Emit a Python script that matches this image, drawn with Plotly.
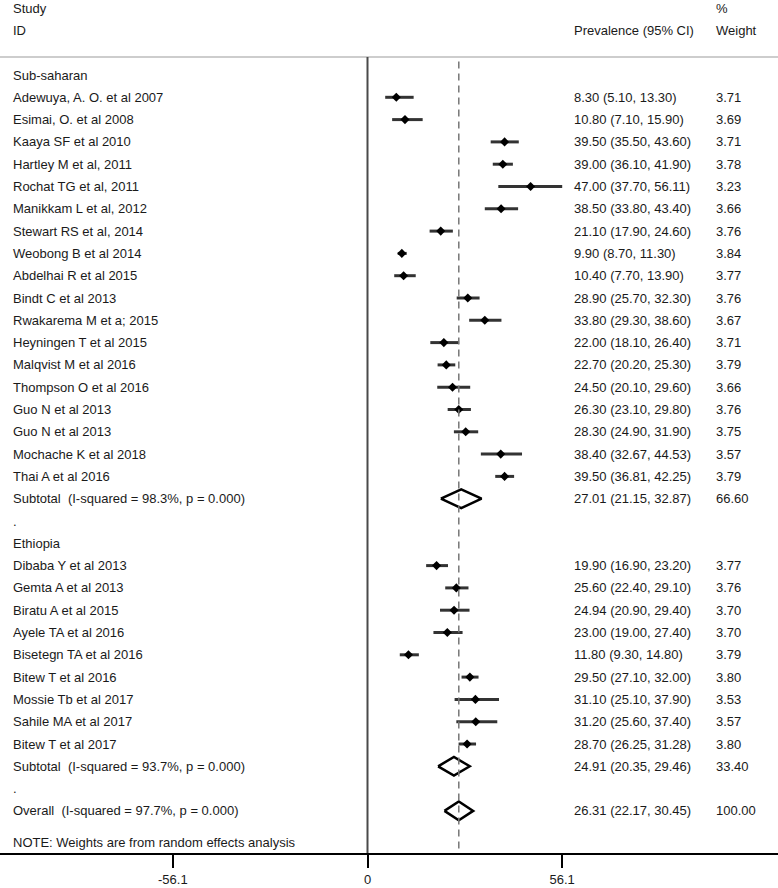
import plotly.graph_objects as go

# ---------------- data ----------------
group_names = ["Sub-saharan", "Ethiopia"]

ss_studies = ["Adewuya, A. O. et al 2007", "Esimai, O. et al 2008", "Kaaya SF et al 2010",
              "Hartley M et al, 2011", "Rochat TG et al, 2011", "Manikkam L et al, 2012",
              "Stewart RS et al, 2014", "Weobong B et al 2014", "Abdelhai R et al 2015",
              "Bindt C et al 2013", "Rwakarema M et a; 2015", "Heyningen T et al 2015",
              "Malqvist M et al 2016", "Thompson O et al 2016", "Guo N et al 2013",
              "Guo N et al 2013", "Mochache K et al 2018", "Thai A et al 2016"]
ss_est = [8.30, 10.80, 39.50, 39.00, 47.00, 38.50, 21.10, 9.90, 10.40,
          28.90, 33.80, 22.00, 22.70, 24.50, 26.30, 28.30, 38.40, 39.50]
ss_lo = [5.10, 7.10, 35.50, 36.10, 37.70, 33.80, 17.90, 8.70, 7.70,
         25.70, 29.30, 18.10, 20.20, 20.10, 23.10, 24.90, 32.67, 36.81]
ss_hi = [13.30, 15.90, 43.60, 41.90, 56.11, 43.40, 24.60, 11.30, 13.90,
         32.30, 38.60, 26.40, 25.30, 29.60, 29.80, 31.90, 44.53, 42.25]
ss_w = [3.71, 3.69, 3.71, 3.78, 3.23, 3.66, 3.76, 3.84, 3.77,
        3.76, 3.67, 3.71, 3.79, 3.66, 3.76, 3.75, 3.57, 3.79]

eth_studies = ["Dibaba Y et al 2013", "Gemta A et al 2013", "Biratu A et al 2015",
               "Ayele TA et al 2016", "Bisetegn TA et al 2016", "Bitew T et al 2016",
               "Mossie Tb et al 2017", "Sahile MA et al 2017", "Bitew T et al 2017"]
eth_est = [19.90, 25.60, 24.94, 23.00, 11.80, 29.50, 31.10, 31.20, 28.70]
eth_lo = [16.90, 22.40, 20.90, 19.00, 9.30, 27.10, 25.10, 25.60, 26.25]
eth_hi = [23.20, 29.10, 29.40, 27.40, 14.80, 32.00, 37.90, 37.40, 31.28]
eth_w = [3.77, 3.76, 3.70, 3.70, 3.79, 3.80, 3.53, 3.57, 3.80]

sub_est = [27.01, 24.91]
sub_lo = [21.15, 20.35]
sub_hi = [32.87, 29.46]
sub_w = [66.60, 33.40]
sub_i2 = [98.3, 93.7]
sub_p = [0.000, 0.000]

overall_est = 26.31
overall_lo = 22.17
overall_hi = 30.45
overall_w = 100.00
overall_i2 = 97.7
overall_p = 0.000

tick_vals = [-56.1, 0, 56.1]
tick_text = ["-56.1", "0", "56.1"]

# ---------------- layout helpers ----------------
W, H = 778, 888
PX_PER_UNIT = 3.47
ZERO_PX = 367.5
X_RANGE = [-ZERO_PX / PX_PER_UNIT, (W - ZERO_PX) / PX_PER_UNIT]
ROW0_PX, ROW_H, AXIS_PX = 75.0, 22.3, 853.0
Y_TOP = -ROW0_PX / ROW_H
Y_BOT = (AXIS_PX - ROW0_PX) / ROW_H
SEP_ROW = (57 - ROW0_PX) / ROW_H

FONT = "Liberation Sans, Arial, sans-serif"
FS = 13
TXT = "#1a1a1a"
NB = "\u00a0"

fig = go.Figure()
annotations = []


def label(text, row, xpx):
    annotations.append(dict(text=text, x=xpx / W, xref="paper", xanchor="left",
                            y=row, yref="y", yanchor="middle", showarrow=False,
                            font=dict(family=FONT, size=FS, color=TXT)))


def fmt_ci(e, l, h):
    return f"{e:.2f} ({l:.2f}, {h:.2f})"


COL_STUDY, COL_CI, COL_W = 11, 572, 714

# header
label("Study", -3, COL_STUDY)
label("ID", -2, COL_STUDY)
label("Prevalence (95% CI)", -2, COL_CI)
label("%", -3, COL_W)
label("Weight", -2, COL_W)

groups = [
    (ss_studies, ss_est, ss_lo, ss_hi, ss_w),
    (eth_studies, eth_est, eth_lo, eth_hi, eth_w),
]

row = 0
pt_x, pt_y = [], []
DH = 0.42
for gi, (names, est, lo, hi, w) in enumerate(groups):
    label(group_names[gi], row, COL_STUDY)
    row += 1
    for n, e, l, h, ww in zip(names, est, lo, hi, w):
        label(n, row, COL_STUDY)
        label(fmt_ci(e, l, h), row, COL_CI)
        label(f"{ww:.2f}", row, COL_W)
        fig.add_trace(go.Scatter(x=[l, h], y=[row, row], mode="lines",
                                 line=dict(color="#333333", width=3),
                                 hoverinfo="skip", showlegend=False))
        pt_x.append(e)
        pt_y.append(row)
        row += 1
    label(f"Subtotal{NB}{NB}(I-squared = {sub_i2[gi]:.1f}%, p = {sub_p[gi]:.3f})", row, COL_STUDY)
    label(fmt_ci(sub_est[gi], sub_lo[gi], sub_hi[gi]), row, COL_CI)
    label(f"{sub_w[gi]:.2f}", row, COL_W)
    fig.add_trace(go.Scatter(
        x=[sub_lo[gi], sub_est[gi], sub_hi[gi], sub_est[gi], sub_lo[gi]],
        y=[row, row - DH, row, row + DH, row], mode="lines",
        line=dict(color="black", width=2.5),
        hoverinfo="skip", showlegend=False))
    row += 1
    label(".", row, COL_STUDY)
    row += 1

label(f"Overall{NB}{NB}(I-squared = {overall_i2:.1f}%, p = {overall_p:.3f})", row, COL_STUDY)
label(fmt_ci(overall_est, overall_lo, overall_hi), row, COL_CI)
label(f"{overall_w:.2f}", row, COL_W)
fig.add_trace(go.Scatter(
    x=[overall_lo, overall_est, overall_hi, overall_est, overall_lo],
    y=[row, row - DH, row, row + DH, row], mode="lines",
    line=dict(color="black", width=2.5),
    hoverinfo="skip", showlegend=False))

label("NOTE: Weights are from random effects analysis", row + 1.42, COL_STUDY)

fig.add_trace(go.Scatter(x=pt_x, y=pt_y, mode="markers",
                         marker=dict(symbol="diamond", size=7, color="black"),
                         hoverinfo="skip", showlegend=False))

shapes = [
    # header separator
    dict(type="line", xref="paper", x0=0, x1=1, yref="y", y0=SEP_ROW, y1=SEP_ROW,
         line=dict(color="#bdbdbd", width=1.5), layer="below"),
    # no-effect line
    dict(type="line", xref="x", x0=0, x1=0, yref="y", y0=SEP_ROW, y1=Y_BOT,
         line=dict(color="#4a4a4a", width=2), layer="below"),
    # overall estimate dashed line
    dict(type="line", xref="x", x0=overall_est, x1=overall_est, yref="y",
         y0=SEP_ROW + 0.2, y1=Y_BOT,
         line=dict(color="#777777", width=1.5, dash="7px,5px"), layer="above"),
]

fig.update_layout(
    width=W, height=H,
    margin=dict(l=0, r=0, t=0, b=H - AXIS_PX),
    paper_bgcolor="white", plot_bgcolor="white",
    font=dict(family=FONT, size=FS, color=TXT),
    annotations=annotations,
    shapes=shapes,
    showlegend=False,
    xaxis=dict(range=X_RANGE, showgrid=False, zeroline=False, showline=True,
               linecolor="black", linewidth=2, ticks="outside", ticklen=13,
               tickwidth=1.5, tickcolor="black", tickvals=tick_vals, ticktext=tick_text,
               tickfont=dict(family=FONT, size=FS, color=TXT), fixedrange=True),
    yaxis=dict(range=[Y_BOT, Y_TOP], visible=False, fixedrange=True),
)

fig.write_html("out.html", config={"displayModeBar": False},
               post_script="document.body.style.margin='0px';")
